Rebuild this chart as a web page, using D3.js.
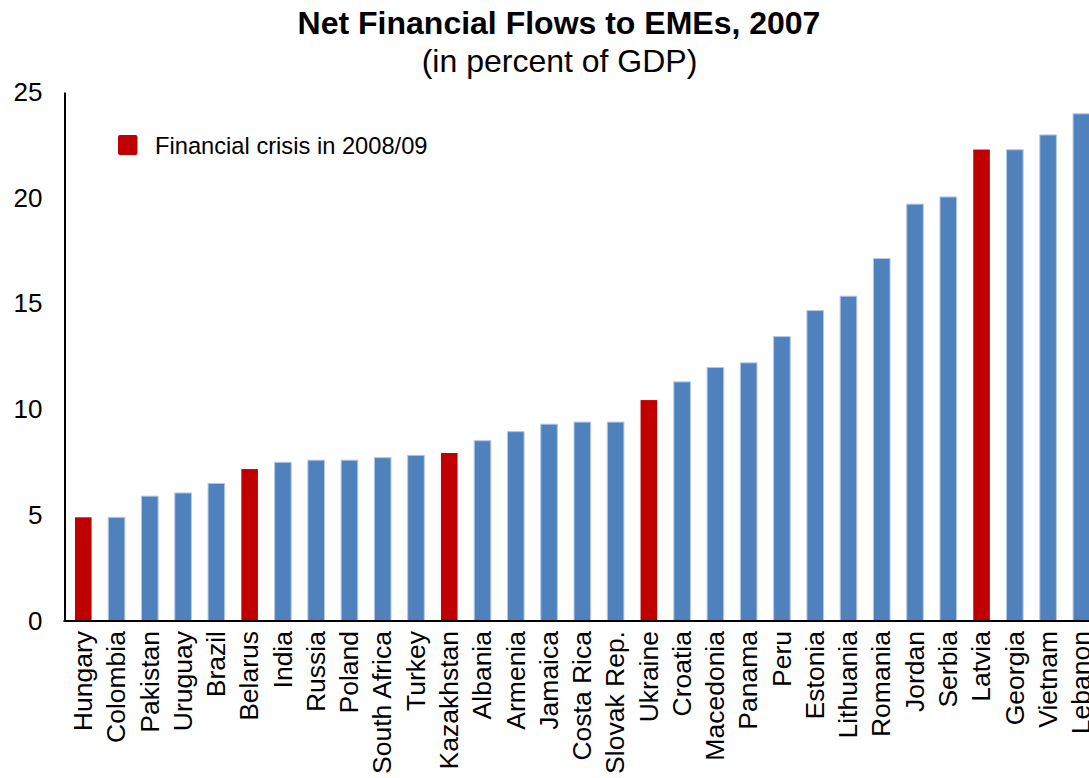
<!DOCTYPE html>
<html>
<head>
<meta charset="utf-8">
<script src="https://cdn.jsdelivr.net/npm/d3@7"></script>
<style>
  html, body { margin: 0; padding: 0; background: #fff; }
  svg { display: block; font-family: "Liberation Sans", Arial, sans-serif; }
</style>
</head>
<body>
<svg id="chart" width="1089" height="778"></svg>
<script>
// Net financial flows, 2007, percent of GDP
const countries = ["Hungary","Colombia","Pakistan","Uruguay","Brazil","Belarus","India","Russia","Poland","South Africa","Turkey","Kazakhstan","Albania","Armenia","Jamaica","Costa Rica","Slovak Rep.","Ukraine","Croatia","Macedonia","Panama","Peru","Estonia","Lithuania","Romania","Jordan","Serbia","Latvia","Georgia","Vietnam","Lebanon"];
const flows = [4.9,4.9,5.9,6.05,6.5,7.18,7.5,7.6,7.6,7.72,7.83,7.94,8.52,8.95,9.3,9.4,9.4,10.44,11.3,11.98,12.2,13.44,14.67,15.35,17.13,19.7,20.04,22.28,22.27,22.97,23.97];
// countries that went through a financial crisis in 2008/09
const crisis = ["Hungary","Belarus","Kazakhstan","Ukraine","Latvia"];
const yTicks = [0,5,10,15,20,25];

const RED = "#C00000", BLUE = "#4F81BD";
const svg = d3.select("#chart");

const x = d3.scaleBand().domain(countries).range([66.65, 1098]).padding(0);
const y = d3.scaleLinear().domain([0, 25]).range([621, 92]);
const barW = 16.6;

// title
svg.append("text").attr("x", 559).attr("y", 34).attr("text-anchor", "middle")
  .attr("font-size", 32).attr("font-weight", "bold").text("Net Financial Flows to EMEs, 2007");
svg.append("text").attr("x", 559.5).attr("y", 72).attr("text-anchor", "middle")
  .attr("font-size", 32).text("(in percent of GDP)");

// bars
const data = countries.map((c, i) => ({ c, v: flows[i], red: crisis.includes(c) }));
svg.append("g").selectAll("rect").data(data).join("rect")
  .attr("x", d => x(d.c) + x.bandwidth() / 2 - barW / 2)
  .attr("width", barW)
  .attr("y", d => y(d.v))
  .attr("height", d => y(0) - y(d.v))
  .attr("fill", d => d.red ? RED : BLUE)
  .attr("stroke", d => d.red ? "none" : "#B3C8E3")
  .attr("stroke-width", 1);

// y axis
const yAxis = svg.append("g").attr("transform", "translate(64.5,0)")
  .call(d3.axisLeft(y).tickValues(yTicks).tickSize(0).tickPadding(22).tickFormat(d3.format("d")));
yAxis.select(".domain").attr("stroke", "#000").attr("stroke-width", 2);
yAxis.selectAll("text").attr("font-size", 26).attr("fill", "#000")
  .attr("font-family", "Liberation Sans, Arial, sans-serif");

// x axis line
svg.append("line").attr("x1", 63.5).attr("x2", 1089).attr("y1", 621).attr("y2", 621)
  .attr("stroke", "#000").attr("stroke-width", 2);

// category labels
svg.append("g").selectAll("text").data(countries).join("text")
  .attr("transform", d => `translate(${x(d) + x.bandwidth() / 2},631) rotate(-90)`)
  .attr("text-anchor", "end")
  .attr("dy", "0.33em")
  .attr("font-size", 26.5)
  .text(d => d);

// legend
svg.append("rect").attr("x", 118).attr("y", 135).attr("width", 19.5).attr("height", 20)
  .attr("rx", 2).attr("fill", RED);
svg.append("text").attr("x", 155).attr("y", 146).attr("dy", "0.35em")
  .attr("font-size", 23.7).text("Financial crisis in 2008/09");
</script>
</body>
</html>
